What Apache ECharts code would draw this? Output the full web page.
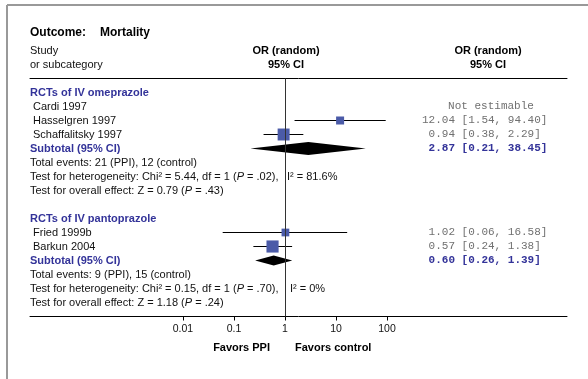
<!DOCTYPE html>
<html>
<head>
<meta charset="utf-8">
<script src="https://cdn.jsdelivr.net/npm/echarts@6/dist/echarts.min.js"></script>
<style>
  html, body { margin: 0; padding: 0; background: #fff; }
  #chart { width: 588px; height: 379px; }
</style>
</head>
<body>
<div id="chart"></div>
<script>
// subgroups
const groupNames = ['RCTs of IV omeprazole', 'RCTs of IV pantoprazole'];
const subOR = [2.87, 0.60];
const subLow = [0.21, 0.26];
const subHigh = [38.45, 1.39];
const ppiEvents = [21, 9];
const controlEvents = [12, 15];
const hetChi2 = ['5.44', '0.15'];
const hetDf = [1, 1];
const hetP = ['.02', '.70'];
const hetI2 = ['81.6%', '0%'];
const overallZ = ['0.79', '1.18'];
const overallP = ['.43', '.24'];

// studies
const studyNames = ['Cardi 1997', 'Hasselgren 1997', 'Schaffalitsky 1997', 'Fried 1999b', 'Barkun 2004'];
const studyGroup = [0, 0, 0, 1, 1];
const studyOR = [null, 12.04, 0.94, 1.02, 0.57];
const studyLow = [null, 1.54, 0.38, 0.06, 0.24];
const studyHigh = [null, 94.40, 2.29, 16.58, 1.38];
const studyWeight = [null, 31, 69, 29, 71];

// axis
const tickValues = [0.01, 0.1, 1, 10, 100];
const tickLabels = ['0.01', '0.1', '1', '10', '100'];

const BLUE = '#333399';
const BOX = '#4b5ba8';
const SANS = 'Liberation Sans, Arial, sans-serif';
const MONO = 'Liberation Mono, Courier New, monospace';
const NUM_X = 422;

const lg = v => Math.log10(v);
const fmt = (o, l, h) => o.toFixed(2).padStart(5, ' ') + ' [' + l.toFixed(2) + ', ' + h.toFixed(2) + ']';
const pRich = (pre, p, post) => '{n|' + pre + '}{i|P}{n|' + post + '}';

// build the row layout
const texts = [];
const studyRow = [];
const subRow = [];
let r = 0;
groupNames.forEach((g, gi) => {
  texts.push({ x: 30, row: r, text: g, kind: 'head' });
  r++;
  studyNames.forEach((s, si) => {
    if (studyGroup[si] !== gi) return;
    studyRow[si] = r;
    texts.push({ x: 33, row: r, text: s, kind: 'plain' });
    if (studyOR[si] == null) {
      texts.push({ x: 491, row: r, text: 'Not estimable', kind: 'mono', align: 'center' });
    } else {
      texts.push({ x: NUM_X, row: r, text: fmt(studyOR[si], studyLow[si], studyHigh[si]), kind: 'mono' });
    }
    r++;
  });
  subRow[gi] = r;
  texts.push({ x: 30, row: r, text: 'Subtotal (95% CI)', kind: 'head' });
  texts.push({ x: NUM_X, row: r, text: fmt(subOR[gi], subLow[gi], subHigh[gi]), kind: 'monoBold' });
  r++;
  texts.push({ x: 30, row: r, text: 'Total events: ' + ppiEvents[gi] + ' (PPI), ' + controlEvents[gi] + ' (control)', kind: 'plain' });
  r++;
  texts.push({ x: 30, row: r, text: pRich('Test for heterogeneity: Chi² = ' + hetChi2[gi] + ', df = ' + hetDf[gi] + ' (', 'P', ' = ' + hetP[gi] + '),'), kind: 'rich' });
  texts.push({ x: gi === 0 ? 287 : 290, row: r, text: 'I² = ' + hetI2[gi], kind: 'plain' });
  r++;
  texts.push({ x: 30, row: r, text: pRich('Test for overall effect: Z = ' + overallZ[gi] + ' (', 'P', ' = ' + overallP[gi] + ')'), kind: 'rich' });
  r++;
  r++;
});
const lastRow = r - 1;

const textStyle = t => {
  const base = { text: t.text, verticalAlign: 'middle', align: t.align || 'left' };
  if (t.kind === 'head') return Object.assign(base, { fill: BLUE, fontFamily: SANS, fontSize: 11, fontWeight: 'bold' });
  if (t.kind === 'mono') return Object.assign(base, { fill: '#707070', fontFamily: MONO, fontSize: 11 });
  if (t.kind === 'monoBold') return Object.assign(base, { fill: BLUE, fontFamily: MONO, fontSize: 11, fontWeight: 'bold' });
  if (t.kind === 'rich') return Object.assign(base, {
    fill: '#111', fontFamily: SANS, fontSize: 11,
    rich: {
      n: { fill: '#111', fontFamily: SANS, fontSize: 11 },
      i: { fill: '#111', fontFamily: SANS, fontSize: 11, fontStyle: 'italic' }
    }
  });
  return Object.assign(base, { fill: '#111', fontFamily: SANS, fontSize: 11 });
};

const chart = echarts.init(document.getElementById('chart'));

const option = {
  animation: false,
  grid: { left: 30, right: 21, top: 78.5, bottom: 62.5 },
  xAxis: [
    {
      type: 'value', min: -5, max: 5.53, position: 'bottom',
      axisLine: { show: true, onZero: false, lineStyle: { color: '#000', width: 1 } },
      axisTick: { show: true, length: 4, customValues: tickValues.map(lg), lineStyle: { color: '#000' } },
      axisLabel: {
        show: true, customValues: tickValues.map(lg), margin: 7,
        color: '#111', fontFamily: SANS, fontSize: 10.5,
        formatter: v => tickLabels[tickValues.findIndex(t => Math.abs(lg(t) - v) < 1e-6)] || ''
      },
      splitLine: { show: false }
    },
    {
      type: 'value', min: -5, max: 5.53, position: 'top',
      axisLine: { show: true, onZero: false, lineStyle: { color: '#000', width: 1 } },
      axisTick: { show: false }, axisLabel: { show: false }, splitLine: { show: false }
    }
  ],
  yAxis: { type: 'value', inverse: true, min: -1, max: lastRow, show: false },
  graphic: [
    { type: 'line', shape: { x1: 7, y1: 5, x2: 588, y2: 5 }, style: { stroke: '#999', lineWidth: 2 } },
    { type: 'line', shape: { x1: 7, y1: 5, x2: 7, y2: 379 }, style: { stroke: '#999', lineWidth: 2 } },
    { type: 'text', x: 30, y: 33, style: { text: 'Outcome:', fill: '#000', fontFamily: SANS, fontSize: 12, fontWeight: 'bold', verticalAlign: 'middle' } },
    { type: 'text', x: 100, y: 33, style: { text: 'Mortality', fill: '#000', fontFamily: SANS, fontSize: 12, fontWeight: 'bold', verticalAlign: 'middle' } },
    { type: 'text', x: 30, y: 51, style: { text: 'Study', fill: '#111', fontFamily: SANS, fontSize: 11, verticalAlign: 'middle' } },
    { type: 'text', x: 30, y: 65, style: { text: 'or subcategory', fill: '#111', fontFamily: SANS, fontSize: 11, verticalAlign: 'middle' } },
    { type: 'text', x: 286, y: 51, style: { text: 'OR (random)', fill: '#000', fontFamily: SANS, fontSize: 11, fontWeight: 'bold', align: 'center', verticalAlign: 'middle' } },
    { type: 'text', x: 286, y: 65, style: { text: '95% CI', fill: '#000', fontFamily: SANS, fontSize: 11, fontWeight: 'bold', align: 'center', verticalAlign: 'middle' } },
    { type: 'text', x: 488, y: 51, style: { text: 'OR (random)', fill: '#000', fontFamily: SANS, fontSize: 11, fontWeight: 'bold', align: 'center', verticalAlign: 'middle' } },
    { type: 'text', x: 488, y: 65, style: { text: '95% CI', fill: '#000', fontFamily: SANS, fontSize: 11, fontWeight: 'bold', align: 'center', verticalAlign: 'middle' } },
    { type: 'text', x: 270, y: 348, style: { text: 'Favors PPI', fill: '#000', fontFamily: SANS, fontSize: 11, fontWeight: 'bold', align: 'right', verticalAlign: 'middle' } },
    { type: 'text', x: 295, y: 348, style: { text: 'Favors control', fill: '#000', fontFamily: SANS, fontSize: 11, fontWeight: 'bold', align: 'left', verticalAlign: 'middle' } }
  ],
  series: [
    {
      // study CIs and weight boxes
      type: 'custom',
      data: studyNames.map((s, i) => [studyOR[i] == null ? 0 : lg(studyOR[i]), studyRow[i]]),
      renderItem: (params, api) => {
        const i = params.dataIndex;
        if (studyOR[i] == null) return null;
        const row = studyRow[i];
        const a = api.coord([lg(studyLow[i]), row]);
        const b = api.coord([lg(studyHigh[i]), row]);
        const c = api.coord([lg(studyOR[i]), row]);
        const sz = 1.44 * Math.sqrt(studyWeight[i]);
        return {
          type: 'group',
          children: [
            { type: 'line', shape: { x1: a[0], y1: a[1], x2: b[0], y2: b[1] }, style: { stroke: '#000', lineWidth: 1 } },
            { type: 'rect', shape: { x: c[0] - sz / 2, y: c[1] - sz / 2, width: sz, height: sz }, style: { fill: BOX } }
          ]
        };
      },
      markLine: {
        silent: true, symbol: 'none', label: { show: false },
        lineStyle: { color: '#333', width: 1, type: 'solid' },
        data: [{ xAxis: 0 }]
      },
      z: 3
    },
    {
      // subtotal diamonds
      type: 'custom',
      data: groupNames.map((g, i) => [lg(subOR[i]), subRow[i]]),
      renderItem: (params, api) => {
        const i = params.dataIndex;
        const row = subRow[i];
        const a = api.coord([lg(subLow[i]), row]);
        const b = api.coord([lg(subHigh[i]), row]);
        const c = api.coord([lg(subOR[i]), row]);
        const h = i === 0 ? 6.5 : 5;
        return {
          type: 'polygon',
          shape: { points: [[a[0], a[1]], [c[0], c[1] - h], [b[0], b[1]], [c[0], c[1] + h]] },
          style: { fill: '#000' }
        };
      },
      z: 3
    },
    {
      // row texts
      type: 'custom',
      data: texts.map(t => [0, t.row]),
      renderItem: (params, api) => {
        const t = texts[params.dataIndex];
        const p = api.coord([0, t.row]);
        return { type: 'text', x: t.x, y: p[1], style: textStyle(t) };
      },
      z: 2
    }
  ]
};

chart.setOption(option);
</script>
</body>
</html>
